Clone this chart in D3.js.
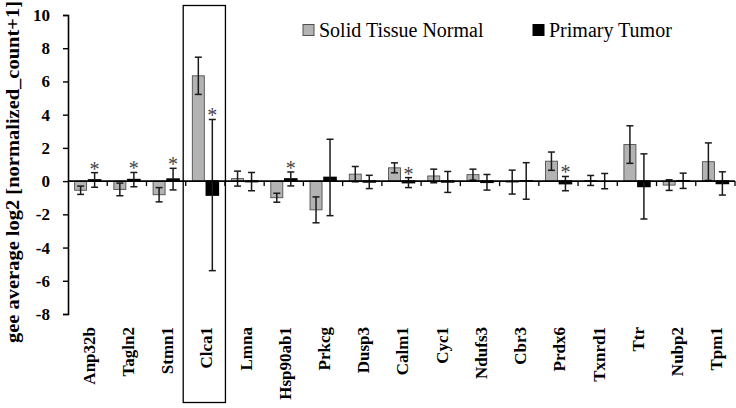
<!DOCTYPE html>
<html>
<head>
<meta charset="utf-8">
<script src="https://cdn.jsdelivr.net/npm/d3@7"></script>
<style>
  html, body { margin: 0; padding: 0; background: #fff; }
  svg { display: block; }
  text { font-family: "Liberation Serif", "Times New Roman", serif; }
</style>
</head>
<body>
<script>
const categories = ["Anp32b","Tagln2","Stmn1","Clca1","Lmna","Hsp90ab1","Prkcg","Dusp3","Calm1","Cyc1","Ndufs3","Cbr3","Prdx6","Txnrd1","Ttr","Nubp2","Tpm1"];
const normalValues = [-0.55, -0.5, -0.82, 6.34, 0.15, -1.0, -1.73, 0.42, 0.8, 0.31, 0.39, -0.06, 1.2, 0.04, 2.2, -0.24, 1.17];
const normalErrors = [0.25, 0.38, 0.43, 1.12, 0.45, 0.27, 0.78, 0.46, 0.3, 0.41, 0.33, 0.72, 0.55, 0.3, 1.13, 0.32, 1.13];
const tumorValues = [0.07, 0.09, 0.12, -0.84, -0.03, 0.13, 0.22, -0.05, -0.09, -0.05, -0.07, 0.01, -0.15, 0.0, -0.32, 0.02, -0.14];
const tumorErrors = [0.44, 0.43, 0.65, 4.55, 0.55, 0.42, 2.3, 0.4, 0.3, 0.63, 0.47, 1.1, 0.43, 0.46, 1.96, 0.46, 0.7];
const significant = [1,1,1,1,0,1,0,0,1,0,0,0,1,0,0,0,0];
const yTicks = [-8,-6,-4,-2,0,2,4,6,8,10];
const seriesNames = ["Solid Tissue Normal", "Primary Tumor"];
const highlighted = "Clca1";
const yTitle = "gee average log2 [normalized_count+1]";

const W = 736, H = 408;
const svg = d3.select("body").append("svg").attr("width", W).attr("height", H);

const x = d3.scaleBand().domain(categories).range([68, 735]).padding(0);
const y = d3.scaleLinear().domain([-8, 10]).range([314, 15]);
const barW = 12, gap = 1;
const colors = ["#b3b3b3", "#000000"];
const strokes = ["#505050", "#000000"];

const data = categories.map((c, i) => ({
  c, i,
  vals: [
    { s: 0, v: normalValues[i], e: normalErrors[i] },
    { s: 1, v: tumorValues[i], e: tumorErrors[i] }
  ]
}));

// highlight box
const hx = x(highlighted);
svg.append("rect")
  .attr("x", hx - 2.5).attr("y", 5.5)
  .attr("width", x.bandwidth() + 3).attr("height", 397)
  .attr("fill", "none").attr("stroke", "#000").attr("stroke-width", 1.3);

const barX = (c, s) => {
  const cx = x(c) + x.bandwidth() / 2;
  return s === 0 ? cx - gap - barW : cx + gap;
};

const groups = svg.append("g").selectAll("g").data(data).join("g");
groups.selectAll("rect.bar").data(d => d.vals.map(v => ({...v, c: d.c})))
  .join("rect").attr("class", "bar")
  .attr("x", d => barX(d.c, d.s))
  .attr("width", barW)
  .attr("y", d => Math.min(y(d.v), y(0)))
  .attr("height", d => Math.abs(y(d.v) - y(0)))
  .attr("fill", d => colors[d.s])
  .attr("stroke", d => strokes[d.s])
  .attr("stroke-width", d => d.s === 1 ? 1.6 : 0.9);

// axes
const xAxisG = svg.append("g");
xAxisG.append("line")
  .attr("x1", 68).attr("x2", 735)
  .attr("y1", y(0)).attr("y2", y(0))
  .attr("stroke", "#000").attr("stroke-width", 1.6);
const bounds = categories.map(c => x(c) + x.bandwidth());
xAxisG.selectAll("line.tk").data(bounds).join("line").attr("class", "tk")
  .attr("x1", d => d).attr("x2", d => d)
  .attr("y1", y(0)).attr("y2", y(0) + 5)
  .attr("stroke", "#000").attr("stroke-width", 1.3);

// error bars
const capW = 7;
groups.each(function(d) {
  const g = d3.select(this);
  d.vals.forEach(v => {
    const cx = barX(d.c, v.s) + barW / 2;
    const top = y(v.v + v.e), bot = y(v.v - v.e);
    g.append("line").attr("x1", cx).attr("x2", cx).attr("y1", top).attr("y2", bot)
      .attr("stroke", "#1a1a1a").attr("stroke-width", 1.5);
    [top, bot].forEach(yy => g.append("line")
      .attr("x1", cx - capW / 2).attr("x2", cx + capW / 2)
      .attr("y1", yy).attr("y2", yy)
      .attr("stroke", "#1a1a1a").attr("stroke-width", 1.5));
    if (v.s === 1 && significant[d.i]) {
      g.append("text").attr("x", cx).attr("y", top + 3)
        .attr("text-anchor", "middle")
        .attr("font-size", 20).attr("fill", "#444").text("*");
    }
  });
});

const yAxis = d3.axisLeft(y).tickValues(yTicks).tickSize(5).tickFormat(d => String(d));
const yg = svg.append("g").attr("transform", "translate(68,0)").call(yAxis);
yg.select(".domain").attr("stroke", "#000").attr("stroke-width", 1.6);
yg.selectAll(".tick line").attr("stroke", "#000").attr("stroke-width", 1.4);
yg.selectAll(".tick text")
  .attr("x", -18)
  .attr("font-size", 17).attr("font-weight", "bold").attr("fill", "#000");

// category labels
svg.append("g").selectAll("text").data(categories).join("text")
  .attr("transform", c => `translate(${x(c) + x.bandwidth() / 2 + 1},327) rotate(-90)`)
  .attr("text-anchor", "end").attr("dy", "0.35em")
  .attr("font-size", 17).attr("font-weight", "bold").text(c => c);

// y title
svg.append("text")
  .attr("transform", "translate(13,343) rotate(-90)")
  .attr("text-anchor", "start").attr("dy", "0.35em")
  .attr("font-size", 18).attr("font-weight", "bold")
  .attr("textLength", 342).attr("lengthAdjust", "spacingAndGlyphs")
  .text(yTitle);

// legend
const legendX = [303, 533];
seriesNames.forEach((n, i) => {
  svg.append("rect").attr("x", legendX[i]).attr("y", 24.5).attr("width", 11).attr("height", 11)
    .attr("fill", colors[i]).attr("stroke", strokes[i]).attr("stroke-width", 1);
  svg.append("text").attr("x", legendX[i] + 16).attr("y", 37)
    .attr("font-size", 20).attr("fill", "#000").text(n);
});
</script>
</body>
</html>
